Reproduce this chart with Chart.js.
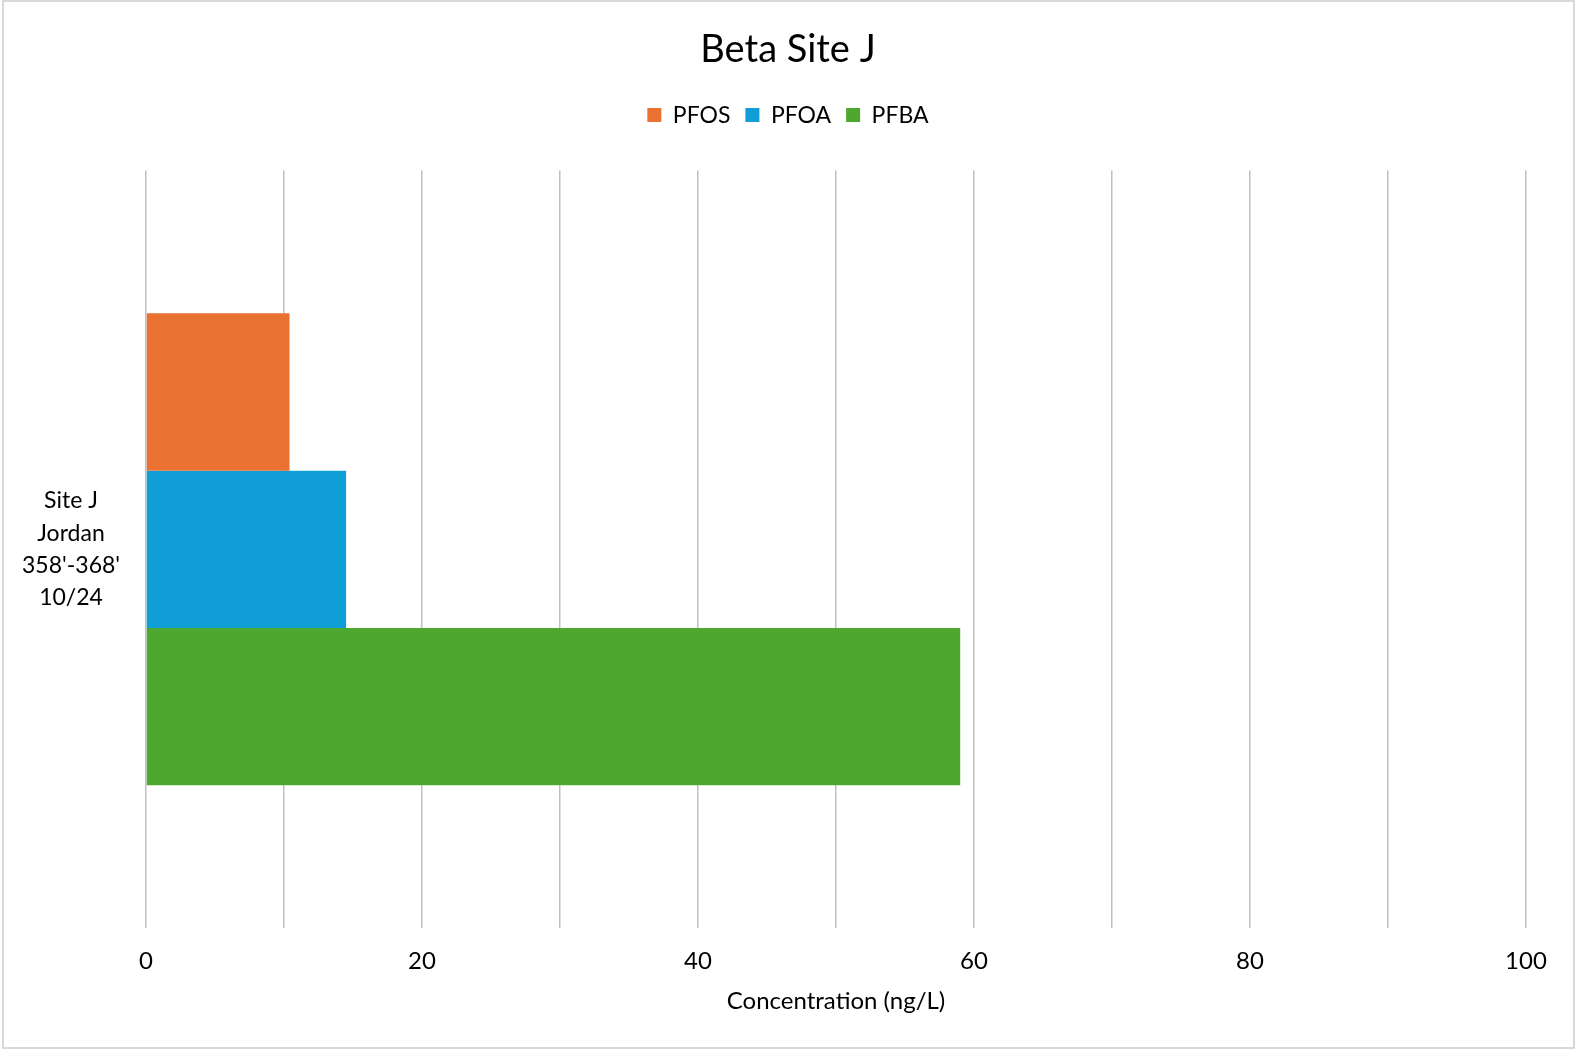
<!DOCTYPE html>
<html>
<head>
<meta charset="utf-8">
<script src="https://cdn.jsdelivr.net/npm/chart.js@4"></script>
<style>
  html, body { margin: 0; padding: 0; background: #fff; }
  #wrap { width: 1576px; height: 1050px; position: relative; }
</style>
</head>
<body>
<div id="wrap"><canvas id="chart" width="1576" height="1050"></canvas></div>
<script>
/* ── data ── */
const CATEGORIES = [["Site J", "Jordan", "358'-368'", "10/24"]];
const SERIES = ['PFOS', 'PFOA', 'PFBA'];
const COLORS = ['#E97132', '#0F9ED5', '#4EA72E'];
const PFOS = [10.4];
const PFOA = [14.5];
const PFBA = [59.0];
const VALUES = [PFOS, PFOA, PFBA];
const X_TICK_LABELS = { 0: '0', 20: '20', 40: '40', 60: '60', 80: '80', 100: '100' };

const FONT = 'Lato, "Open Sans", sans-serif';

/* ── light frame round the picture ── */
const frame = {
  id: 'frame',
  afterDraw(chart) {
    const { ctx } = chart;
    ctx.save();
    ctx.strokeStyle = '#d9d9d9';
    ctx.lineWidth = 2;
    ctx.strokeRect(3, 1, 1571, 1047);
    ctx.restore();
  },
};

new Chart(document.getElementById('chart').getContext('2d'), {
  type: 'bar',
  data: {
    labels: CATEGORIES,
    datasets: SERIES.map((name, i) => ({
      label: name,
      data: VALUES[i],
      xAxisID: 'x',
      yAxisID: 'y',
      backgroundColor: COLORS[i],
      borderWidth: 0,
      categoryPercentage: 0.623,
      barPercentage: 1.0,
    })),
  },
  plugins: [frame],
  options: {
    indexAxis: 'y',
    animation: false,
    responsive: false,
    layout: { padding: 0 },
    plugins: {
      title: {
        display: true,
        text: 'Beta Site J',
        color: '#000',
        font: { family: FONT, size: 38, weight: 'normal' },
        padding: { top: 27, bottom: 16 },
      },
      legend: {
        position: 'top',
        labels: {
          color: '#000',
          font: { family: FONT, size: 23 },
          boxWidth: 14,
          boxHeight: 14,
          padding: 15,
        },
      },
      tooltip: { enabled: false },
    },
    scales: {
      xTop: {
        type: 'linear',
        position: 'top',
        display: true,
        grid: { display: false },
        border: { display: false },
        ticks: { display: false },
        afterFit: s => { s.height = 34; },
      },
      x: {
        type: 'linear',
        min: 0,
        max: 100,
        position: 'bottom',
        grid: { color: '#c0c0c0', lineWidth: 1.5, drawTicks: false },
        border: { display: false },
        ticks: {
          stepSize: 10,
          autoSkip: false,
          padding: 19,
          color: '#000',
          font: { family: FONT, size: 24 },
          callback: v => X_TICK_LABELS[v] ?? '',
        },
        title: {
          display: true,
          text: 'Concentration (ng/L)',
          color: '#000',
          font: { family: FONT, size: 24 },
          padding: { top: 10, bottom: 34 },
        },
        afterFit: s => { s.height = 122; s.paddingRight = 50; },
      },
      y: {
        grid: { display: false, drawTicks: false },
        border: { display: false },
        ticks: {
          color: '#000',
          crossAlign: 'center',
          padding: 26,
          font: { family: FONT, size: 23, lineHeight: 1.4 },
        },
        afterFit: s => { s.width = 146; },
      },
    },
  },
});
</script>
</body>
</html>
